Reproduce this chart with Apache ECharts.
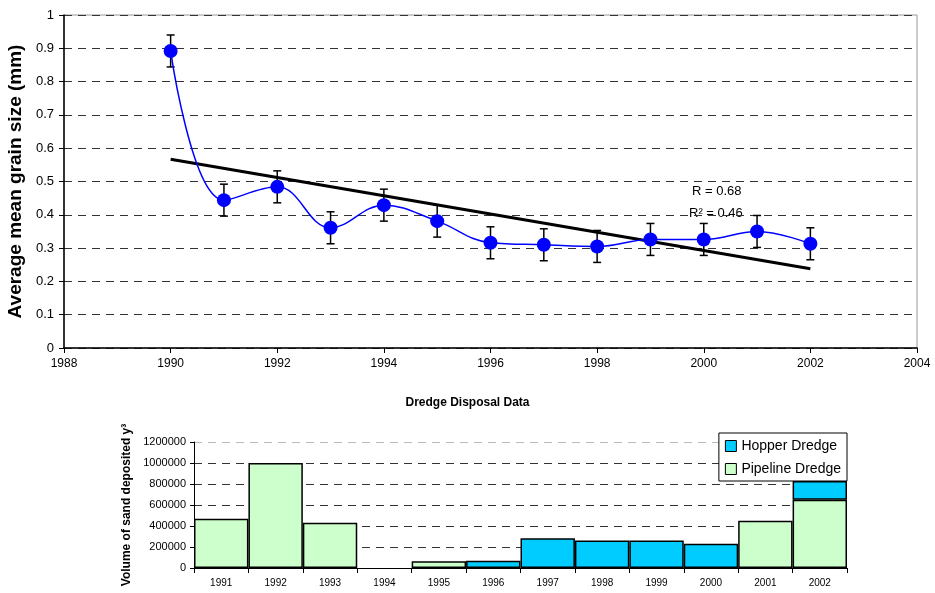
<!DOCTYPE html>
<html><head><meta charset="utf-8">
<script src="https://cdn.jsdelivr.net/npm/echarts@6/dist/echarts.min.js"></script>
<style>html,body{margin:0;padding:0;background:#fff}#c{width:935px;height:593px}</style>
</head><body><div id="c"></div>
<script>
const years = [1990,1991,1992,1993,1994,1995,1996,1997,1998,1999,2000,2001,2002];
const grainSize = [0.892,0.444,0.484,0.361,0.429,0.381,0.316,0.310,0.305,0.326,0.326,0.350,0.313];
const grainErr = [0.048,0.048,0.048,0.048,0.048,0.048,0.048,0.048,0.048,0.048,0.048,0.048,0.048];
const trendYears = [1990,2002];
const trendValues = [0.567,0.238];
const dredgeYears = ['1991','1992','1993','1994','1995','1996','1997','1998','1999','2000','2001','2002'];
const pipeline = [468000,1000000,432000,null,64000,null,null,null,null,null,449000,649000];
const hopper = [null,null,null,null,null,70000,283000,261000,261000,232000,null,179000];

const FONT = 'Liberation Sans, Arial, sans-serif';
const chart = echarts.init(document.getElementById('c'));
const pts = years.map((y,i)=>[y,grainSize[i]]);
const errData = years.map((y,i)=>[y,grainSize[i]-grainErr[i],grainSize[i]+grainErr[i]]);
chart.setOption({
  animation:false,
  textStyle:{fontFamily:FONT},
  grid:[
    {left:64,top:15,width:853,height:333,show:true,borderColor:'#999',borderWidth:1,containLabel:false,outerBoundsMode:'none'},
    {left:194,top:442,width:653,height:126,containLabel:false,outerBoundsMode:'none'}
  ],
  xAxis:[
    {type:'value',gridIndex:0,min:1988,max:2004,interval:2,
     axisLine:{lineStyle:{color:'#000',width:1.5}},axisTick:{show:true,length:5,lineStyle:{color:'#000'}},
     axisLabel:{color:'#000',fontSize:12,margin:10,formatter:v=>String(v)},splitLine:{show:false}},
    {type:'category',gridIndex:1,data:dredgeYears,boundaryGap:true,
     axisLine:{lineStyle:{color:'#000',width:1}},axisTick:{show:true,length:5,lineStyle:{color:'#000'}},
     axisLabel:{color:'#000',fontSize:10,margin:10},splitLine:{show:false}}
  ],
  yAxis:[
    {type:'value',gridIndex:0,min:0,max:1,interval:0.1,
     name:'Average mean grain size (mm)',nameLocation:'middle',nameGap:34,
     nameTextStyle:{fontSize:19,fontWeight:'bold',color:'#000'},
     axisLine:{show:true,lineStyle:{color:'#000',width:1.5}},axisTick:{show:true,length:5,lineStyle:{color:'#000'}},
     axisLabel:{color:'#000',fontSize:13,margin:10,formatter:v=>String(+v.toFixed(1))},
     splitLine:{show:true,lineStyle:{color:'#333',type:[8,6],width:1}}},
    {type:'value',gridIndex:1,min:0,max:1200000,interval:200000,
     name:'Volume of sand deposited y\u00b3',nameLocation:'middle',nameGap:60,
     nameTextStyle:{fontSize:12,fontWeight:'bold',color:'#000'},
     axisLine:{show:true,lineStyle:{color:'#000',width:1}},axisTick:{show:true,length:4,lineStyle:{color:'#000'}},
     axisLabel:{color:'#000',fontSize:11,margin:8,formatter:v=>String(v)},
     splitLine:{show:true,lineStyle:{color:['#333','#333','#333','#333','#333','#333','#bbb'],type:[8,6],width:1}}}
  ],
  legend:{data:['Hopper Dredge','Pipeline Dredge'],orient:'vertical',right:88,top:433,
    backgroundColor:'#fff',borderColor:'#000',borderWidth:1,padding:[6,6,5,6],itemGap:9,
    itemWidth:11,itemHeight:11,itemStyle:{borderColor:'#000',borderWidth:1},
    textStyle:{fontSize:14,color:'#000',fontFamily:FONT},
    icon:'rect'},
  graphic:[
    {type:'text',left:'center',top:397,style:{text:'Dredge Disposal Data',font:'bold 12px '+FONT,fill:'#000'}},
    {type:'text',left:692,top:185,style:{text:'R = 0.68',font:'13px '+FONT,fill:'#000'}},
    {type:'text',left:689,top:207,style:{text:'R\u00b2 = 0.46',font:'13px '+FONT,fill:'#000'}}
  ],
  series:[
    {type:'custom',xAxisIndex:0,yAxisIndex:0,z:2,data:errData,
     renderItem:function(params,api){
       const x=api.value(0);
       const lo=api.coord([x,api.value(1)]);
       const hi=api.coord([x,api.value(2)]);
       const w=4;
       const st={stroke:'#000',lineWidth:1.5};
       return {type:'group',children:[
         {type:'line',shape:{x1:lo[0],y1:lo[1],x2:hi[0],y2:hi[1]},style:st},
         {type:'line',shape:{x1:lo[0]-w,y1:lo[1],x2:lo[0]+w,y2:lo[1]},style:st},
         {type:'line',shape:{x1:hi[0]-w,y1:hi[1],x2:hi[0]+w,y2:hi[1]},style:st}
       ]};
     }},
    {type:'line',xAxisIndex:0,yAxisIndex:0,z:3,data:trendYears.map((y,i)=>[y,trendValues[i]]),
     symbol:'none',lineStyle:{color:'#000',width:3}},
    {type:'line',xAxisIndex:0,yAxisIndex:0,z:4,data:pts,smooth:0.4,
     symbol:'circle',symbolSize:14,itemStyle:{color:'#0000ff'},lineStyle:{color:'#0000ff',width:1.5}},
    {name:'Pipeline Dredge',type:'bar',xAxisIndex:1,yAxisIndex:1,stack:'d',data:pipeline,barCategoryGap:'0%',
     itemStyle:{color:'#ccffcc',borderColor:'#000',borderWidth:1.5}},
    {name:'Hopper Dredge',type:'bar',xAxisIndex:1,yAxisIndex:1,stack:'d',data:hopper,barCategoryGap:'0%',
     itemStyle:{color:'#00ccff',borderColor:'#000',borderWidth:1.5}}
  ]
});
</script></body></html>
